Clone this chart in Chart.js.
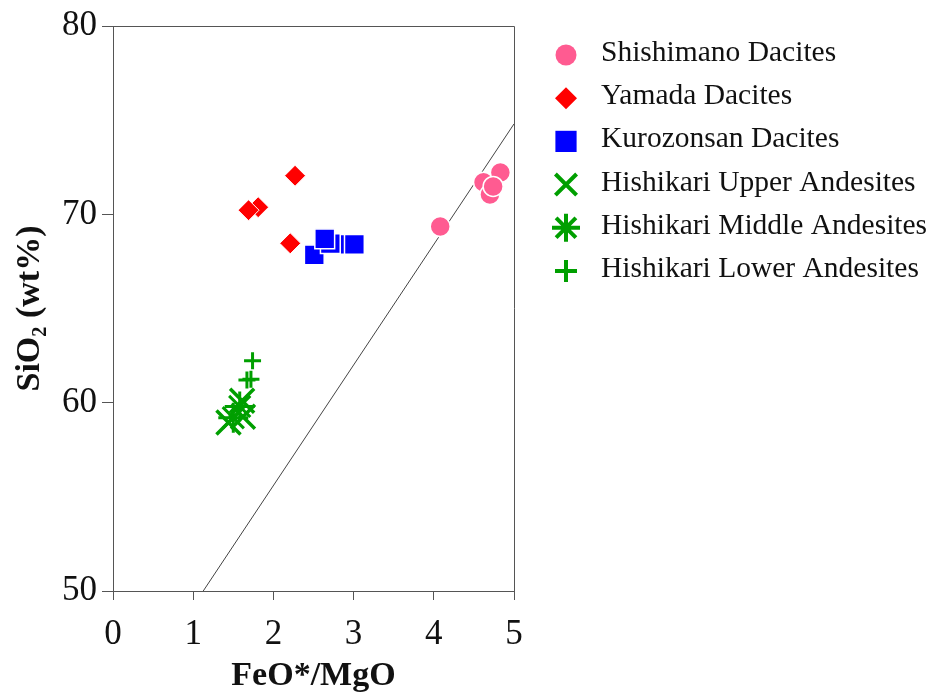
<!DOCTYPE html>
<html>
<head>
<meta charset="utf-8">
<script src="https://cdn.jsdelivr.net/npm/chart.js@4.4.1/dist/chart.umd.min.js"></script>
<style>
  html, body { margin: 0; padding: 0; background: #fff; }
  #wrap { width: 931px; height: 693px; position: relative; }
</style>
</head>
<body>
<div id="wrap"><canvas id="chart"></canvas></div>
<script>
// FeO*/MgO vs SiO2 for the dacites and andesites

const seriesNames = [
  'Shishimano Dacites',
  'Yamada Dacites',
  'Kurozonsan Dacites',
  'Hishikari Upper Andesites',
  'Hishikari Middle Andesites',
  'Hishikari Lower Andesites'
];

const shishimanoFeoMgo = [4.08, 4.62, 4.70, 4.83, 4.74];
const shishimanoSio2   = [69.35, 71.70, 71.05, 72.22, 71.48];

const yamadaFeoMgo = [2.27, 1.81, 1.69, 2.21];
const yamadaSio2   = [72.05, 70.38, 70.22, 68.46];

const kurozonsanFeoMgo = [2.51, 2.79, 2.71, 2.64, 3.01];
const kurozonsanSio2   = [67.85, 68.40, 68.45, 68.70, 68.40];

const upperFeoMgo = [1.44, 1.62, 1.61];
const upperSio2   = [58.95, 59.25, 60.10];

const middleFeoMgo = [1.50, 1.58];
const middleSio2   = [59.20, 59.80];

const lowerFeoMgo = [1.67, 1.72, 1.74];
const lowerSio2   = [61.20, 61.25, 62.22];

// tholeiitic / calc-alkaline boundary, end points
const boundaryFeoMgo = [1.125, 5.0];
const boundarySio2   = [50.0, 74.8];

const xTicks = [0, 1, 2, 3, 4, 5];
const yTicks = [50, 60, 70, 80];

const PINK = '#FF5B91';
const RED = '#FF0000';
const BLUE = '#0000FF';
const GREEN = '#009F00';

const SERIF = '"Liberation Serif", "Times New Roman", serif';

function pts(xs, ys) {
  return xs.map((x, i) => ({ x: x, y: ys[i] }));
}

// marker look in the plot and in the side legend
const markers = [
  { style: 'circle',   color: PINK,  r: 10,   border: '#fff', bw: 1.5, legendR: 10.5, legendBw: 0 },
  { style: 'rectRot',  color: RED,   r: 10.5, border: '#fff', bw: 1,   legendR: 11,   legendBw: 0 },
  { style: 'rect',     color: BLUE,  r: 14,   border: '#fff', bw: 1.5, legendR: 15,   legendBw: 0 },
  { style: 'crossRot', color: GREEN, r: 17,   border: GREEN,  bw: 3.5, legendR: 15,   legendBw: 4 },
  { style: 'star',     color: GREEN, r: 15,   border: GREEN,  bw: 3,   legendR: 14,   legendBw: 4 },
  { style: 'cross',    color: GREEN, r: 8.5,  border: GREEN,  bw: 3,   legendR: 11,   legendBw: 4 }
];

const seriesData = [
  pts(shishimanoFeoMgo, shishimanoSio2),
  pts(yamadaFeoMgo, yamadaSio2),
  pts(kurozonsanFeoMgo, kurozonsanSio2),
  pts(upperFeoMgo, upperSio2),
  pts(middleFeoMgo, middleSio2),
  pts(lowerFeoMgo, lowerSio2)
];

const datasets = seriesNames.map((name, i) => ({
  label: name,
  data: seriesData[i],
  pointStyle: markers[i].style,
  pointRadius: markers[i].r,
  pointBackgroundColor: markers[i].color,
  pointBorderColor: markers[i].border,
  pointBorderWidth: markers[i].bw,
  showLine: false
}));

// boundary line goes last so it sits behind the symbols
datasets.push({
  label: 'boundary',
  type: 'line',
  data: pts(boundaryFeoMgo, boundarySio2),
  borderColor: '#444',
  borderWidth: 1,
  pointRadius: 0,
  fill: false
});

// top and right edges of the plot box
const framePlugin = {
  id: 'frame',
  beforeDatasetsDraw(chart) {
    const a = chart.chartArea;
    const ctx = chart.ctx;
    ctx.save();
    ctx.strokeStyle = '#555';
    ctx.lineWidth = 1;
    ctx.beginPath();
    ctx.moveTo(a.left, a.top + 0.5);
    ctx.lineTo(a.right + 0.5, a.top + 0.5);
    ctx.lineTo(a.right + 0.5, a.bottom);
    ctx.stroke();
    ctx.restore();
  }
};

// symbol key on the right
const sideLegend = {
  id: 'sideLegend',
  afterDraw(chart) {
    const ctx = chart.ctx;
    const markX = 566, textX = 601, top = 52, step = 43.2;
    ctx.save();
    ctx.font = '29.5px ' + SERIF;
    ctx.textBaseline = 'alphabetic';
    ctx.textAlign = 'left';
    seriesNames.forEach((name, i) => {
      const m = markers[i];
      const y = top + i * step;
      ctx.fillStyle = m.color;
      ctx.strokeStyle = m.color;
      ctx.lineWidth = m.legendBw;
      Chart.helpers.drawPoint(ctx, {
        pointStyle: m.style, radius: m.legendR, rotation: 0, borderWidth: m.legendBw
      }, markX, y + 3);
      ctx.fillStyle = '#111';
      ctx.fillText(name, textX, y + 9);
    });
    ctx.restore();
  }
};

new Chart(document.getElementById('chart'), {
  type: 'scatter',
  data: { datasets: datasets },
  options: {
    responsive: true,
    maintainAspectRatio: false,
    animation: false,
    devicePixelRatio: 1,
    events: [],
    layout: { padding: { top: 26, right: 417, bottom: 0, left: 0 } },
    plugins: {
      legend: { display: false },
      tooltip: { enabled: false }
    },
    scales: {
      x: {
        type: 'linear',
        min: 0,
        max: 5,
        afterBuildTicks: s => { s.ticks = xTicks.map(v => ({ value: v })); },
        afterFit: s => { s.height = 102; },
        ticks: {
          font: { family: SERIF, size: 35 },
          color: '#111',
          padding: 14,
          maxRotation: 0
        },
        grid: { display: true, drawOnChartArea: false, tickLength: 9, color: '#555' },
        border: { display: true, color: '#555', width: 1 },
        title: {
          display: true,
          text: 'FeO*/MgO',
          font: { family: SERIF, size: 34, weight: 'bold', lineHeight: 1.0 },
          color: '#111',
          padding: { top: 6, bottom: 0 }
        }
      },
      y: {
        type: 'linear',
        min: 50,
        max: 80,
        afterBuildTicks: s => { s.ticks = yTicks.map(v => ({ value: v })); },
        afterFit: s => { s.width = 113; },
        ticks: {
          font: { family: SERIF, size: 35 },
          color: '#111',
          padding: 5
        },
        grid: { display: true, drawOnChartArea: false, tickLength: 11, color: '#555' },
        border: { display: true, color: '#555', width: 1 },
        title: {
          display: true,
          text: 'SiO₂ (wt%)',
          font: { family: SERIF, size: 34, weight: 'bold' },
          color: '#111',
          padding: { top: 10, bottom: 0 }
        }
      }
    }
  },
  plugins: [framePlugin, sideLegend]
});
</script>
</body>
</html>
